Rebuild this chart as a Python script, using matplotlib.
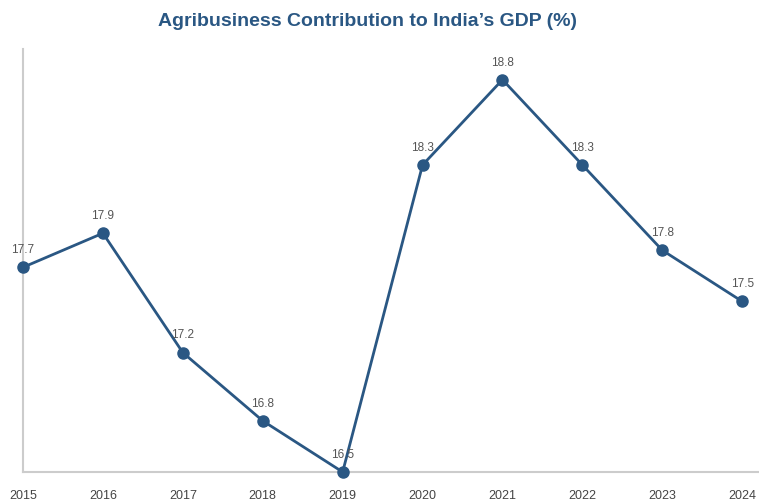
import matplotlib
matplotlib.use("Agg")
import matplotlib.pyplot as plt

years = [2015, 2016, 2017, 2018, 2019, 2020, 2021, 2022, 2023, 2024]
gdp_share = [17.7, 17.9, 17.2, 16.8, 16.5, 18.3, 18.8, 18.3, 17.8, 17.5]

plt.rcParams['font.family'] = ['Liberation Sans', 'DejaVu Sans']

fig = plt.figure(figsize=(7.59, 5.04), dpi=100)
ax = fig.add_axes([23 / 759, 32 / 504, 1 - 23 / 759, (472 - 49) / 504])

line_color = "#2a5783"
ax.plot(years, gdp_share, color=line_color, linewidth=2.0, marker="o", markersize=8, clip_on=False, zorder=3)

# ラベル
for x, y in zip(years, gdp_share):
    ax.annotate(f"{y}", (x, y), xytext=(0, 8), textcoords="offset points",
                ha="center", va="bottom", fontsize=8.5, color="#555555")

ax.set_xlim(2015, 2024.21)
ax.set_ylim(16.5, 18.98)
ax.set_xticks(years)
ax.set_xticklabels([str(y) for y in years])
ax.set_yticks([])
ax.tick_params(axis="x", length=0, pad=13, labelsize=9, labelcolor="#444444")

for s in ["top", "right"]:
    ax.spines[s].set_visible(False)
for s in ["left", "bottom"]:
    ax.spines[s].set_color("#cccccc")
    ax.spines[s].set_linewidth(1.5)

fig.text(367.5 / 759, 1 - 21 / 504, "Agribusiness Contribution to India’s GDP (%)", ha="center", va="center",
         fontsize=14, fontweight="bold", color="#2a5783")

fig.savefig("out.png", dpi=100)
